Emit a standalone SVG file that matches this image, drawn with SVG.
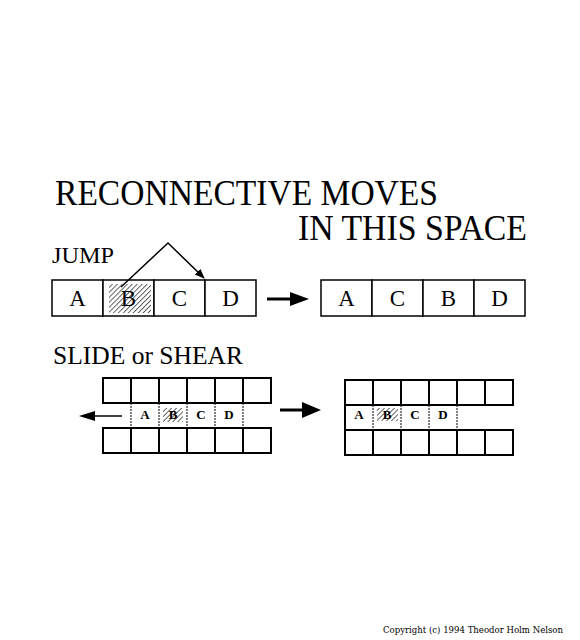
<svg xmlns="http://www.w3.org/2000/svg" width="580" height="640" viewBox="0 0 580 640">
<defs>
<pattern id="hatch" width="3.5" height="3.5" patternUnits="userSpaceOnUse" patternTransform="rotate(45)">
<line x1="0" y1="0" x2="0" y2="3.5" stroke="#000" stroke-width="1.2"/>
</pattern>
<marker id="headS" markerWidth="10" markerHeight="10" refX="9" refY="5" orient="auto" markerUnits="userSpaceOnUse">
<path d="M0,1 L10,5 L0,9 Z" fill="#000"/>
</marker>
</defs>
<style>
.t{font-family:"Liberation Serif","Times New Roman",serif;fill:#000}
.cell{fill:#fff;stroke:#000;stroke-width:1.5}
.g{fill:#fff;stroke:#000;stroke-width:2}
.mid{fill:none;stroke:#000;stroke-width:1;stroke-dasharray:2 1}
.big{font-size:23px;text-anchor:middle}
.sm{font-size:13px;font-weight:bold;text-anchor:middle}
.hat{fill:url(#hatch)}
</style>
<rect width="580" height="640" fill="#fff"/>

<g id="title">
<text class="t" x="55" y="205" font-size="36" textLength="383" lengthAdjust="spacingAndGlyphs">RECONNECTIVE MOVES</text>
<text class="t" x="298" y="240" font-size="36" textLength="229" lengthAdjust="spacingAndGlyphs">IN THIS SPACE</text>
</g>
<g id="label-jump"><text class="t" x="52" y="263" font-size="24" textLength="62" lengthAdjust="spacingAndGlyphs">JUMP</text></g>
<g id="label-slide"><text class="t" x="53" y="364" font-size="25" textLength="190" lengthAdjust="spacingAndGlyphs">SLIDE or SHEAR</text></g>

<!-- JUMP before -->
<g id="jump-a"><rect class="cell" x="52" y="280" width="51" height="36"/><text class="t big" x="77.5" y="306">A</text></g>
<g id="jump-b"><rect class="cell" x="103" y="280" width="51" height="36"/><rect class="hat" x="109" y="284" width="42" height="29"/><text class="t big" x="128.5" y="306">B</text></g>
<g id="jump-c"><rect class="cell" x="154" y="280" width="51" height="36"/><text class="t big" x="179.5" y="306">C</text></g>
<g id="jump-d"><rect class="cell" x="205" y="280" width="51" height="36"/><text class="t big" x="230.5" y="306">D</text></g>

<!-- JUMP after -->
<g id="jump2-a"><rect class="cell" x="321" y="280" width="51" height="36"/><text class="t big" x="346.5" y="306">A</text></g>
<g id="jump2-c"><rect class="cell" x="372" y="280" width="51" height="36"/><text class="t big" x="397.5" y="306">C</text></g>
<g id="jump2-b"><rect class="cell" x="423" y="280" width="51" height="36"/><text class="t big" x="448.5" y="306">B</text></g>
<g id="jump2-d"><rect class="cell" x="474" y="280" width="51" height="36"/><text class="t big" x="499.5" y="306">D</text></g>

<!-- SLIDE before grid -->
<g id="slide1-top">
<rect class="g" x="103" y="378" width="28" height="25"/><rect class="g" x="131" y="378" width="28" height="25"/><rect class="g" x="159" y="378" width="28" height="25"/><rect class="g" x="187" y="378" width="28" height="25"/><rect class="g" x="215" y="378" width="28" height="25"/><rect class="g" x="243" y="378" width="28" height="25"/>
</g>
<g id="slide1-bottom">
<rect class="g" x="103" y="428" width="28" height="25"/><rect class="g" x="131" y="428" width="28" height="25"/><rect class="g" x="159" y="428" width="28" height="25"/><rect class="g" x="187" y="428" width="28" height="25"/><rect class="g" x="215" y="428" width="28" height="25"/><rect class="g" x="243" y="428" width="28" height="25"/>
</g>
<g id="slide1-a"><line class="mid" x1="131" y1="403" x2="131" y2="428"/><text class="t sm" x="145" y="419">A</text></g>
<g id="slide1-b"><line class="mid" x1="159" y1="403" x2="159" y2="428"/><rect class="hat" x="163" y="408" width="20" height="14"/><text class="t sm" x="173" y="419">B</text></g>
<g id="slide1-c"><line class="mid" x1="187" y1="403" x2="187" y2="428"/><text class="t sm" x="201" y="419">C</text></g>
<g id="slide1-d"><line class="mid" x1="215" y1="403" x2="215" y2="428"/><line class="mid" x1="243" y1="403" x2="243" y2="428"/><text class="t sm" x="229" y="419">D</text></g>

<!-- SLIDE after grid -->
<g id="slide2-top">
<rect class="g" x="345" y="380" width="28" height="25"/><rect class="g" x="373" y="380" width="28" height="25"/><rect class="g" x="401" y="380" width="28" height="25"/><rect class="g" x="429" y="380" width="28" height="25"/><rect class="g" x="457" y="380" width="28" height="25"/><rect class="g" x="485" y="380" width="28" height="25"/>
</g>
<g id="slide2-bottom">
<rect class="g" x="345" y="430" width="28" height="25"/><rect class="g" x="373" y="430" width="28" height="25"/><rect class="g" x="401" y="430" width="28" height="25"/><rect class="g" x="429" y="430" width="28" height="25"/><rect class="g" x="457" y="430" width="28" height="25"/><rect class="g" x="485" y="430" width="28" height="25"/>
</g>
<g id="slide2-a"><line x1="345" y1="405" x2="345" y2="430" stroke="#000" stroke-width="2"/><line class="mid" x1="373" y1="405" x2="373" y2="430"/><text class="t sm" x="359" y="419">A</text></g>
<g id="slide2-b"><rect class="hat" x="377" y="408" width="21" height="13"/><line class="mid" x1="401" y1="405" x2="401" y2="430"/><text class="t sm" x="387" y="419">B</text></g>
<g id="slide2-c"><line class="mid" x1="429" y1="405" x2="429" y2="430"/><text class="t sm" x="415" y="419">C</text></g>
<g id="slide2-d"><line class="mid" x1="457" y1="405" x2="457" y2="430"/><text class="t sm" x="443" y="419">D</text></g>

<g id="connectors" stroke="#000" fill="none">
<path d="M121,287 L168,243 L204,278" stroke-width="1.5" marker-end="url(#headS)"/>
<line x1="267" y1="299" x2="292" y2="299" stroke-width="3"/>
<polygon points="290,292 309,299 290,306" fill="#000" stroke="none"/>
<line x1="94" y1="416" x2="122" y2="416" stroke-width="1.5"/>
<polygon points="95,411 79,416 95,421" fill="#000" stroke="none"/>
<line x1="280" y1="410" x2="304" y2="410" stroke-width="3"/>
<polygon points="302,402 321,410 302,418" fill="#000" stroke="none"/>
</g>

<g id="copyright"><text x="383" y="633" font-family="'DejaVu Serif','Liberation Serif',serif" font-size="9" textLength="180" lengthAdjust="spacingAndGlyphs">Copyright (c) 1994 Theodor Holm Nelson</text></g>
</svg>
